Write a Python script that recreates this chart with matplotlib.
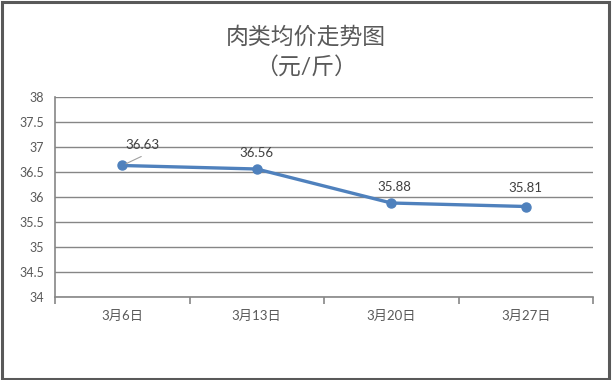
import matplotlib
matplotlib.use("Agg")
import matplotlib.pyplot as plt
from matplotlib.patches import Rectangle

plt.rcParams['font.family'] = ['Lato', 'Noto Sans CJK SC', 'DejaVu Sans']

categories = ['3月6日', '3月13日', '3月20日', '3月27日']
prices = [36.63, 36.56, 35.88, 35.81]
y_ticks = [34, 34.5, 35, 35.5, 36, 36.5, 37, 37.5, 38]
y_tick_labels = ['34', '34.5', '35', '35.5', '36', '36.5', '37', '37.5', '38']
title_text = '肉类均价走势图\n（元/斤）'

W, H = 612, 380
fig = plt.figure(figsize=(W / 100, H / 100), dpi=100)
fig.patch.set_facecolor('white')
ax = fig.add_axes([55 / W, 1 - 297 / H, (593 - 55) / W, 200 / H])

x = list(range(len(categories)))
ax.plot(x, prices, color='#4F81BD', lw=2.4, marker='o', ms=6.5,
        markerfacecolor='#4F81BD', markeredgecolor='#4F81BD', zorder=3,
        solid_capstyle='round')

ax.set_xlim(-0.5, len(categories) - 0.5)
ax.set_ylim(34, 38)
ax.set_yticks(y_ticks)
ax.set_yticklabels(y_tick_labels)
ax.yaxis.grid(True, color='#868686', lw=1.0)
ax.set_axisbelow(True)
ax.tick_params(axis='y', length=0, pad=8, labelsize=9, labelcolor='#595959')

ax.set_xticks([i + 0.5 for i in range(-1, len(categories))])
ax.set_xticklabels([])
ax.set_xticks(x, minor=True)
ax.set_xticklabels(categories, minor=True)
ax.tick_params(axis='x', which='major', direction='out', length=5, width=1.2, color='#868686')
ax.tick_params(axis='x', which='minor', length=0, pad=9, labelsize=9.5, labelcolor='#595959')

for s in ['top', 'right']:
    ax.spines[s].set_visible(False)
for s in ['left', 'bottom']:
    ax.spines[s].set_color('#868686')
    ax.spines[s].set_linewidth(1.2)

# data labels
offsets = [(20, 20), (0, 16), (3, 16), (0, 19)]
for i, (v, off) in enumerate(zip(prices, offsets)):
    ax.annotate(f'{v:.2f}', xy=(i, v), xytext=off, textcoords='offset pixels',
                ha='center', va='center', fontsize=9.5, color='#404040')
# leader line for first label
ax.annotate('', xy=(0, prices[0]), xytext=(19, 9), textcoords='offset pixels',
            arrowprops=dict(arrowstyle='-', color='#A0A0A0', lw=0.8,
                            shrinkA=0, shrinkB=3))

fig.text(0.5, 1 - 52 / H, title_text, ha='center', va='center',
         fontsize=16.5, color='#595959', linespacing=1.45)

fig.patches.append(Rectangle((1.5 / W, 1.5 / H), (608.5 - 1.5) / W, (378.5 - 1.5) / H,
                             transform=fig.transFigure, fill=False,
                             edgecolor='#595959', lw=2.2))

fig.savefig('out.png', dpi=100, facecolor='white')
